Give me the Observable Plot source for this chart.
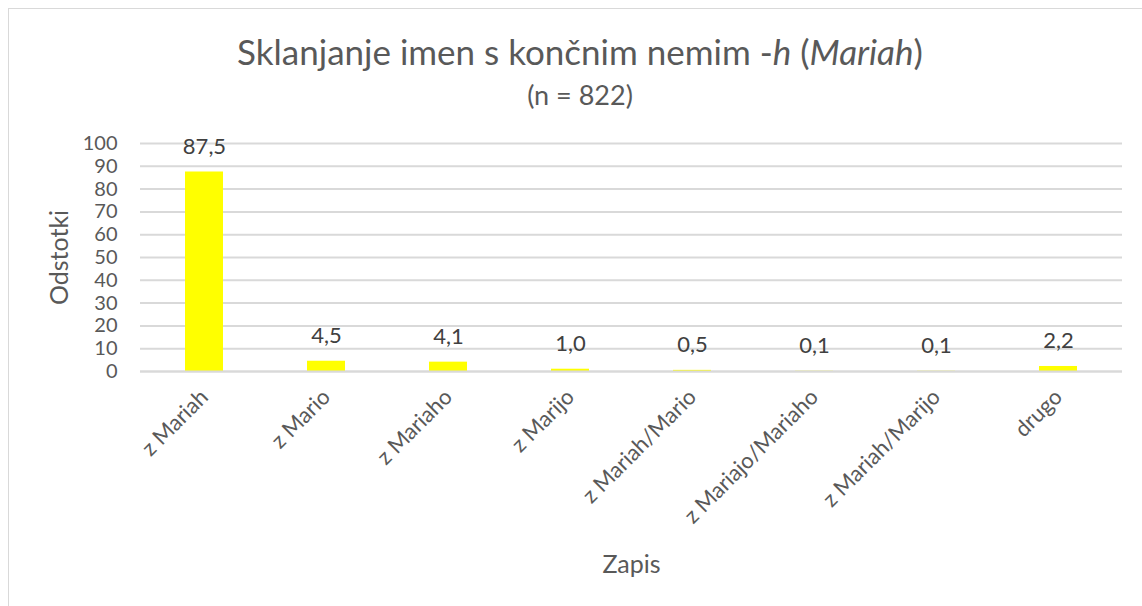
<!DOCTYPE html>
<html>
<head>
<meta charset="utf-8">
<script src="https://cdn.jsdelivr.net/npm/d3@7"></script>
<script src="https://cdn.jsdelivr.net/npm/@observablehq/plot@0.6"></script>
<style>
  html, body { margin: 0; padding: 0; background: #fff; overflow: hidden; }
  #wrap { position: relative; width: 1142px; height: 606px; font-family: Lato, "Open Sans", sans-serif; color: #595959; }
  #frame { position: absolute; left: 8px; top: 8px; width: 1150px; height: 640px; border: 1px solid #d9d9d9; box-sizing: border-box; }
  #title { position: absolute; left: 18px; width: 1124px; top: 31px; text-align: center; font-size: 35px; line-height: 40px; }
  #subtitle { position: absolute; left: 18px; width: 1124px; top: 80px; text-align: center; font-size: 27px; line-height: 30px; }
  #chart { position: absolute; left: 0; top: 120px; }
</style>
</head>
<body>
<div id="wrap">
  <div id="frame"></div>
  <div id="title">Sklanjanje imen s končnim nemim -<i>h</i> (<i>Mariah</i>)</div>
  <div id="subtitle">(n = 822)</div>
  <div id="chart"></div>
</div>
<script>
const categories = ["z Mariah", "z Mario", "z Mariaho", "z Marijo", "z Mariah/Mario", "z Mariajo/Mariaho", "z Mariah/Marijo", "drugo"];
const values = [87.5, 4.5, 4.1, 1.0, 0.5, 0.1, 0.1, 2.2];
const yTicks = [0, 10, 20, 30, 40, 50, 60, 70, 80, 90, 100];

const data = categories.map((c, i) => ({cat: c, val: values[i]}));
const fmt = v => d3.format(".1f")(v).replace(".", ",");

const chart = Plot.plot({
  width: 1142,
  height: 486,
  marginTop: 23,
  marginBottom: 235,
  marginLeft: 140,
  marginRight: 20,
  style: {fontFamily: "Lato, 'Open Sans', sans-serif", color: "#595959", background: "transparent", overflow: "visible"},
  x: {domain: categories, paddingInner: 0.69, paddingOuter: 0.345, label: null},
  y: {domain: [0, 100], label: null},
  marks: [
    Plot.gridY(yTicks, {stroke: "#d9d9d9", strokeOpacity: 1, strokeWidth: 2}),
    Plot.barY(data, {x: "cat", y: "val", fill: "#ffff00"}),
    Plot.ruleY([0], {stroke: "#d9d9d9", strokeWidth: 2}),
    Plot.text(data, {x: "cat", y: "val", text: d => fmt(d.val), dy: -18, lineAnchor: "bottom", fontSize: 22, fill: "#404040"}),
    Plot.axisY({ticks: yTicks, tickSize: 0, tickPadding: 23, fontSize: 20, fill: "#595959", label: null}),
    Plot.axisX({tickSize: 0, tickPadding: 22, tickRotate: -45, fontSize: 22, fill: "#595959", label: null}),
    Plot.text(["Odstotki"], {frameAnchor: "left", dx: -81, rotate: -90, textAnchor: "middle", fontSize: 25, fill: "#595959"}),
    Plot.text(["Zapis"], {frameAnchor: "bottom", dy: 201, lineAnchor: "bottom", fontSize: 25, fill: "#595959"})
  ]
});
document.getElementById("chart").appendChild(chart);
</script>
</body>
</html>
